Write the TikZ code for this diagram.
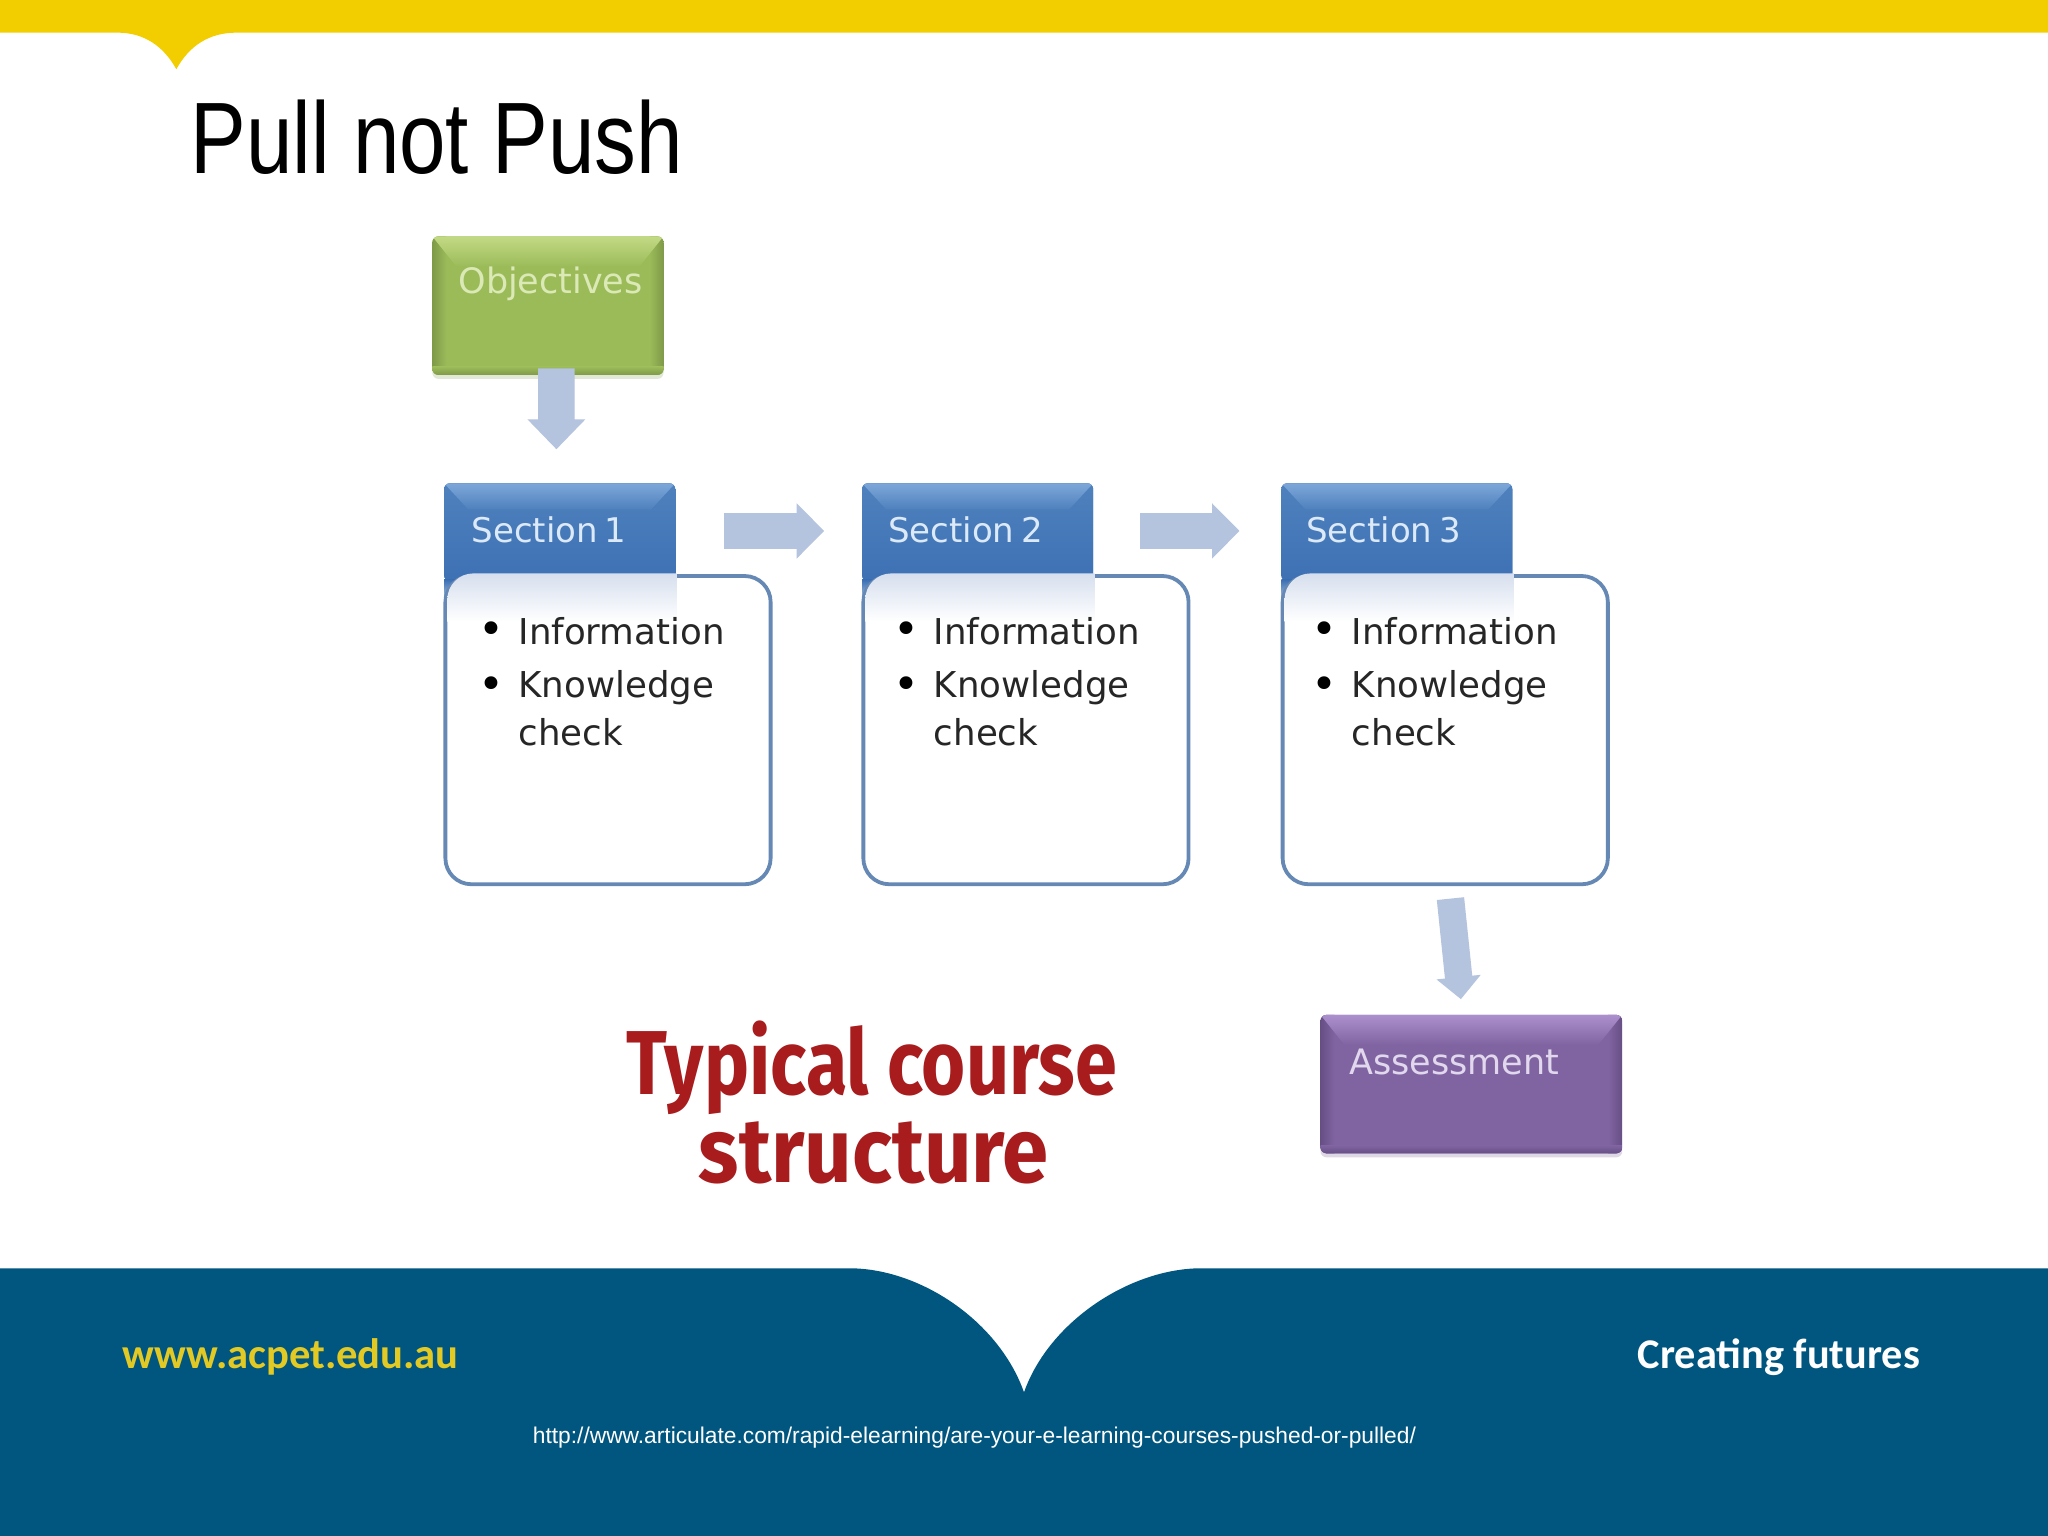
\documentclass[tikz,border=0pt]{standalone}
\usepackage{fontspec}
\usepackage{graphicx}
\usetikzlibrary{arrows.meta,calc,shadows}
\setmainfont{Liberation Sans}
\newfontfamily\gemfont{DejaVu Sans}
\newfontfamily\footfont[Ligatures=Rare]{Carlito}
\newfontfamily\handfont{Fira Sans}
\definecolor{footblue}{HTML}{00567F}
\definecolor{topyellow}{HTML}{F2CE00}
\definecolor{wwwyellow}{HTML}{E2C924}
\definecolor{arrowblue}{HTML}{B4C3DE}
\definecolor{bodyline}{HTML}{6688B4}
\definecolor{tabtint}{HTML}{D6DFEE}
\definecolor{handred}{HTML}{A81C1E}
\definecolor{TabBlue}{HTML}{4F81BD}
\definecolor{TabLight}{HTML}{7DA7D9}
\definecolor{TabDark}{HTML}{3D71B4}
\definecolor{SecText}{HTML}{DCE9F7}
\definecolor{GemGreen}{HTML}{9BBB59}
\definecolor{GemGreenL}{HTML}{C3DA85}
\definecolor{GemGreenD}{HTML}{7F9A48}
\definecolor{GemPurple}{HTML}{8064A2}
\definecolor{GemPurpleL}{HTML}{AC90CE}
\definecolor{GemPurpleD}{HTML}{674F85}
\tikzset{
  every node/.style={inner sep=0pt,outer sep=0pt},
  gem/.style n args={5}{% width, height, base, light, dark
    rectangle,rounded corners=3pt,minimum width=#1*0.653pt,minimum height=#2*0.653pt,
    fill=#3,drop shadow={opacity=.22,shadow xshift=0pt,shadow yshift=-2pt,fill=#5},
    path picture={
      \coordinate (nw) at (path picture bounding box.north west);
      \coordinate (ne) at (path picture bounding box.north east);
      \coordinate (sw) at (path picture bounding box.south west);
      \coordinate (se) at (path picture bounding box.south east);
      \shade[sharp corners,left color=#5,right color=#3] (sw) rectangle ([xshift=7pt]nw);
      \shade[sharp corners,left color=#3,right color=#5] ([xshift=-7pt]se) rectangle (ne);
      \shade[sharp corners,top color=#4,bottom color=#3]
        (nw) -- (ne) -- ([xshift=-12pt,yshift=-15pt]ne) -- ([xshift=12pt,yshift=-15pt]nw) -- cycle;
      \shade[sharp corners,top color=#3,bottom color=#5] ([yshift=4pt]sw) rectangle (se);
    }},
  tabbox/.style n args={4}{% width, height, base, light
    rectangle,rounded corners=3pt,minimum width=#1*0.653pt,minimum height=#2*0.653pt,
    fill=#3,
    path picture={
      \coordinate (nw) at (path picture bounding box.north west);
      \coordinate (ne) at (path picture bounding box.north east);
      \coordinate (sw) at (path picture bounding box.south west);
      \coordinate (se) at (path picture bounding box.south east);
      \shade[sharp corners,top color=#3,bottom color=TabDark] (nw) rectangle (se);
      \shade[sharp corners,top color=#4,bottom color=#3]
        (nw) -- (ne) -- ([xshift=-12pt,yshift=-13pt]ne) -- ([xshift=12pt,yshift=-13pt]nw) -- cycle;
    }},
  bodybox/.style={
    rectangle,rounded corners=13pt,minimum width=249*0.653pt,minimum height=236*0.653pt,
    draw=bodyline,line width=1.9pt,fill=white},
  gemtext/.style={anchor=base west,font=\gemfont\fontsize{17.5}{20}\selectfont},
  sectext/.style={anchor=base west,font=\gemfont\fontsize{17}{20}\selectfont},
  listtext/.style={anchor=base west,text=black!85,font=\gemfont\fontsize{17.8}{20}\selectfont},
  bulletmark/.style={anchor=center,font=\gemfont\fontsize{22}{24}\selectfont},
  blockarrow/.style n args={3}{draw=arrowblue,line width=#1*0.653pt,
    -{Triangle[length=#2*0.653pt,width=#3*0.653pt,fill=arrowblue]}},
}
% section block: name, tab x, body x, tab-label x, bullet x, text x, number
\newcommand{\sectionblock}[7]{%
  \node[tabbox={177}{75}{TabBlue}{TabLight},anchor=north west] (tab#1) at (#2,370) {};
  \shade[top color=TabDark,bottom color=white] (#2,444) rectangle ++(16,27);
  \node[bodybox,anchor=north west] (body#1) at (#3,441) {};
  \begin{scope}
    \clip[rounded corners=13pt] (#3+1.5,439) rectangle (#3+249,677);
    \shade[top color=tabtint,bottom color=white] (#3,439) rectangle (#2+178,476);
  \end{scope}
  \node[sectext,text=SecText] (label#1) at (#4,415) {Section\hspace{.2em}#7};
  \node[bulletmark] (bulletA#1) at (#5,485) {•};
  \node[bulletmark] (bulletB#1) at (#5,527) {•};
  \node[listtext] (info#1) at (#6,493.5) {Information};
  \node[listtext] (know#1) at (#6,534) {Knowledge};
  \node[listtext] (check#1) at (#6,571) {check};
}
\begin{document}
\begin{tikzpicture}[x=0.653pt,y=-0.653pt]
\useasboundingbox (0,0) rectangle (1568,1176);
\fill[white] (0,0) rectangle (1568,1176);
% top band
\fill[topyellow] (0,0) -- (1568,0) -- (1568,25) -- (181,25)
  .. controls (160,25) and (145,35) .. (135,53)
  .. controls (125,35) and (110,25) .. (90,25) -- (0,25) -- cycle;
% footer band
\fill[footblue] (0,1176) -- (0,971) -- (650,971)
  .. controls (705,971) and (765,1012) .. (784,1066)
  .. controls (803,1012) and (865,971) .. (920,971)
  -- (1568,971) -- (1568,1176) -- cycle;
% title
\node[anchor=base west] (title) at (146,133)
  {\resizebox{246pt}{36.8pt}{\fontsize{52}{60}\selectfont Pull not Push}};
% objective
\node[gem={177}{106}{GemGreen}{GemGreenL}{GemGreenD},anchor=north west] (obj) at (331,181) {};
\node[gemtext,text=GemGreenL!60!white] (objt) at (351,225) {Objectives};
% sections
\sectionblock{1}{340}{341}{361}{376}{397}{1}
\sectionblock{2}{660}{661}{680}{694}{715}{2}
\sectionblock{3}{981}{982}{1000}{1014}{1035}{3}
% assessment
\node[gem={231}{106}{GemPurple}{GemPurpleL}{GemPurpleD},anchor=north west] (assess) at (1011,777) {};
\node[gemtext,text=GemPurpleL!35!white] (asst) at (1033,823) {Assessment};
% connectors
\draw[blockarrow={28}{23}{43}] ($(obj.south)+(6.5,-5)$) -- ($(tab1.north)+(-2.5,-26)$);
\draw[blockarrow={27}{21}{41}] ($(tab1.east)+(37,-1)$) -- ($(tab2.west)+(-29,-1)$);
\draw[blockarrow={27}{21}{41}] ($(tab2.east)+(36,-1)$) -- ($(tab3.west)+(-32,-1)$);
\draw[blockarrow={21}{17}{33}] ($(body3.south)+(4,11)$) -- ($(assess.north)+(-8,-12)$);
% caption
\node[anchor=base west,text=handred] (hand1) at (480,838)
  {\scalebox{1}[1.2]{\resizebox{245pt}{!}{\handfont\bfseries\fontsize{40}{40}\selectfont Typical course}}};
\node[anchor=base west,text=handred] (hand2) at (535,905)
  {\scalebox{1}[1.1]{\resizebox{175pt}{!}{\handfont\bfseries\fontsize{40}{40}\selectfont structure}}};
% footer text
\node[anchor=base west,text=wwwyellow] (www) at (94,1048)
  {\resizebox{168pt}{!}{\footfont\bfseries\fontsize{24}{28}\selectfont www.acpet.edu.au}};
\node[anchor=base west,text=white] (create) at (1254,1048)
  {\resizebox{141pt}{!}{\footfont\bfseries\fontsize{24}{28}\selectfont Creating futures}};
\node[anchor=base west,text=white] (url) at (408,1105.5)
  {\resizebox{441.5pt}{!}{\fontsize{12}{14}\selectfont http://www.articulate.com/rapid-elearning/are-your-e-learning-courses-pushed-or-pulled/}};
\end{tikzpicture}
\end{document}
